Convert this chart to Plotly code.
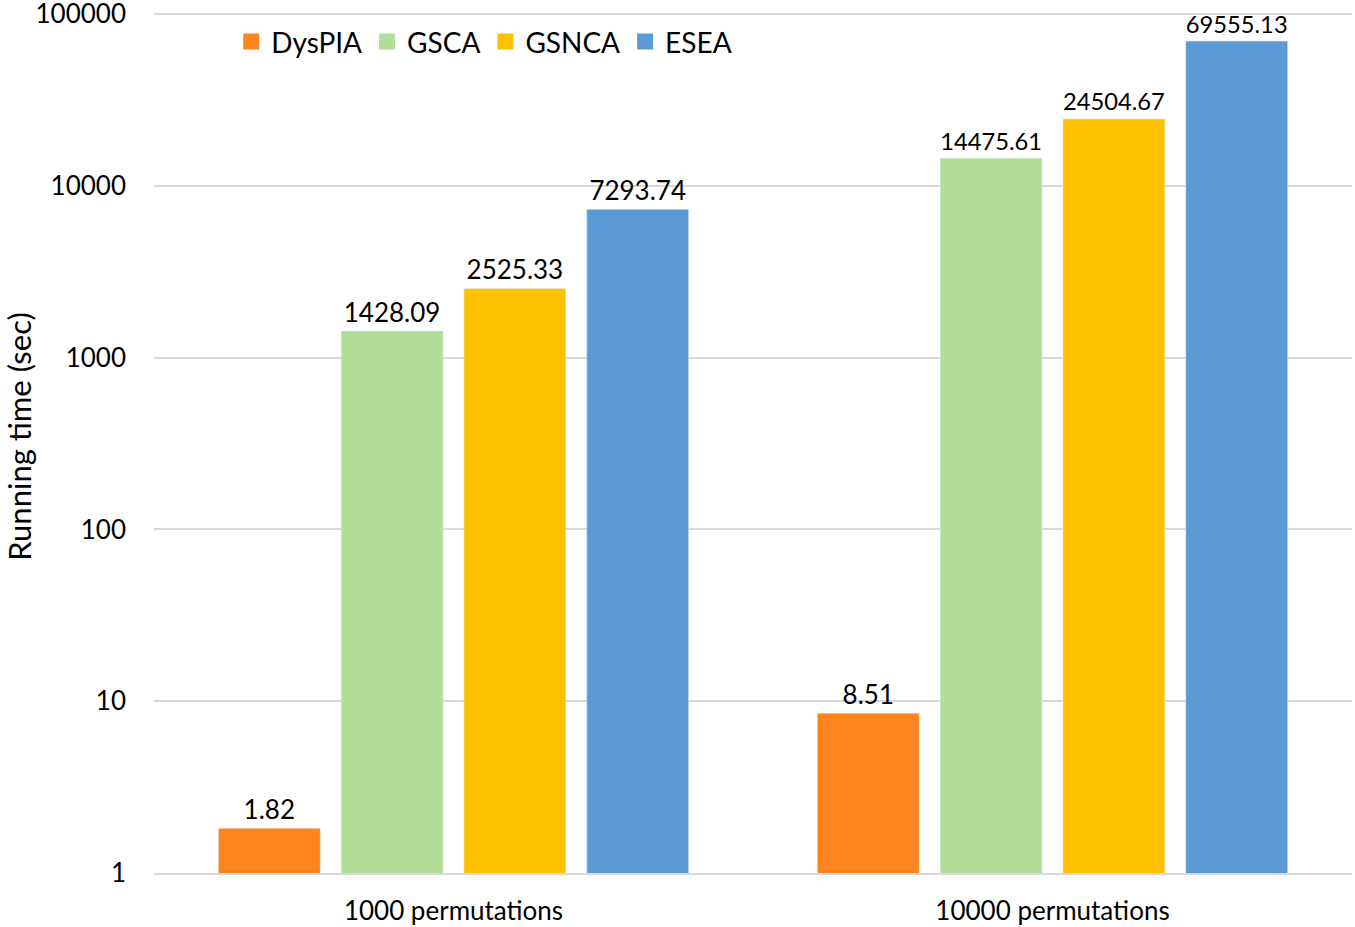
import plotly.graph_objects as go

categories = ["1000 permutations", "10000 permutations"]
methods = ["DysPIA", "GSCA", "GSNCA", "ESEA"]
colors = ["#FD841F", "#B3DE98", "#FFC000", "#5B9BD5"]
dyspia = [1.82, 8.51]
gsca = [1428.09, 14475.61]
gsnca = [2525.33, 24504.67]
esea = [7293.74, 69555.13]
series = [dyspia, gsca, gsnca, esea]
y_ticks = [1, 10, 100, 1000, 10000, 100000]

FONT = "Lato"

fig = go.Figure()
for name, vals, col in zip(methods, series, colors):
    fig.add_trace(go.Bar(
        x=categories, y=vals, name=name, marker_color=col, showlegend=False,
        text=[f"{v:.2f}" for v in vals], textposition="outside",
        textfont=dict(size=26, color="#000000", family=FONT),
        cliponaxis=False,
    ))
# legend entries with larger square swatches
for name, col in zip(methods, colors):
    fig.add_trace(go.Scatter(
        x=[None], y=[None], mode="markers", name=name,
        marker=dict(symbol="square", size=20, color=col),
    ))

fig.update_layout(
    width=1355, height=927,
    barmode="group", bargap=0.18, bargroupgap=0.17,
    paper_bgcolor="white", plot_bgcolor="white",
    margin=dict(l=154, r=3, t=0, b=54),
    font=dict(family=FONT, size=26, color="#000000"),
    legend=dict(orientation="h", x=0.0645, y=0.952, xanchor="left", yanchor="middle",
                font=dict(size=28), bgcolor="rgba(0,0,0,0)", itemwidth=30,
                itemsizing="trace", traceorder="normal"),
)
# top of range sits a little above 100000 so its gridline is kept
fig.update_yaxes(
    type="log", range=[0, 5.0815], tickvals=y_ticks, ticktext=[str(t) for t in y_ticks],
    showgrid=True, gridcolor="#D9D9D9", gridwidth=2, zeroline=False,
    showline=False, ticks="", ticklabelstandoff=27, automargin=False,
    ticklabeloverflow="allow",
    title=dict(text="Running time (sec)", font=dict(size=31), standoff=35),
    tickfont=dict(size=26),
)
fig.update_xaxes(
    showline=True, linecolor="#D9D9D9", linewidth=2, ticks="", automargin=False,
    tickfont=dict(size=26), ticklabelstandoff=14,
)

# drop the default 8px body margin so the figure fills the window
fig.write_html("out.html", config={"displayModeBar": False},
               post_script="document.body.style.margin = '0';")
